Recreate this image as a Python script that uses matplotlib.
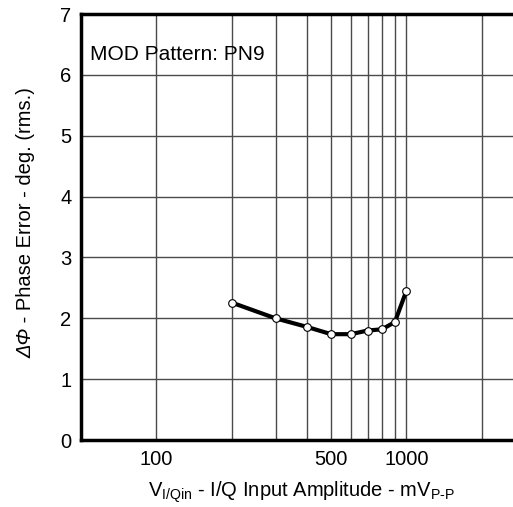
import matplotlib
matplotlib.use("Agg")
import matplotlib.pyplot as plt

plt.rcParams['font.family'] = ['Liberation Sans', 'DejaVu Sans']
plt.rcParams['mathtext.fontset'] = 'custom'
plt.rcParams['mathtext.rm'] = 'Liberation Sans'
plt.rcParams['mathtext.it'] = 'Liberation Sans:italic'

# data
amplitude_mv = [200, 300, 400, 500, 600, 700, 800, 900, 1000]
phase_error = [2.26, 2.00, 1.86, 1.74, 1.74, 1.80, 1.82, 1.94, 2.45]

grid_x = [100, 200, 300, 400, 500, 600, 700, 800, 900, 1000, 2000]
xtick_vals = [100, 500, 1000]
ytick_vals = [0, 1, 2, 3, 4, 5, 6, 7]

fig = plt.figure(figsize=(5.13, 5.07), dpi=100)
ax = fig.add_axes([0.158, 0.132, 0.8666, 0.8403])

ax.set_xscale('log')
ax.set_xlim(50, 3000)
ax.set_ylim(0, 7)

for gx in grid_x:
    ax.axvline(gx, color='#4a4a4a', lw=1.0, zorder=1)
for gy in ytick_vals[1:-1]:
    ax.axhline(gy, color='#4a4a4a', lw=1.0, zorder=1)

ax.plot(amplitude_mv, phase_error, color='black', lw=3.0, marker='o',
        markersize=5.5, markerfacecolor='white', markeredgecolor='black',
        markeredgewidth=0.8, zorder=3)

ax.set_xticks(xtick_vals)
ax.set_xticklabels([str(v) for v in xtick_vals])
ax.xaxis.set_minor_locator(matplotlib.ticker.NullLocator())
ax.set_yticks(ytick_vals)
ax.tick_params(length=0, labelsize=14.5, pad=7)

for side in ['left', 'bottom', 'top']:
    ax.spines[side].set_linewidth(2.5)
ax.spines['right'].set_visible(False)

fig.text(90 / 513, 1 - 55 / 507, 'MOD Pattern: PN9',
         fontsize=15, va='center', ha='left')

# y label: italic delta-phi followed by upright text
renderer = fig.canvas.get_renderer()
ylab_x = 25.5 / 513
ylab_bottom = 1 - 358 / 507
sym = fig.text(ylab_x, ylab_bottom, 'ΔΦ', style='italic', rotation=90,
               fontsize=14.5, ha='center', va='bottom')
sym_h = sym.get_window_extent(renderer).height / fig.bbox.height
fig.text(ylab_x, ylab_bottom + sym_h, ' - Phase Error - deg. (rms.)',
         rotation=90, fontsize=14.5, ha='center', va='bottom')

fig.text(302 / 513, 1 - 492 / 507,
         r'V$_{\mathrm{I/Qin}}$ - I/Q Input Amplitude - mV$_{\mathrm{P\text{-}P}}$',
         fontsize=14.5, ha='center', va='center')

fig.savefig('out.png', dpi=100, facecolor='white')
